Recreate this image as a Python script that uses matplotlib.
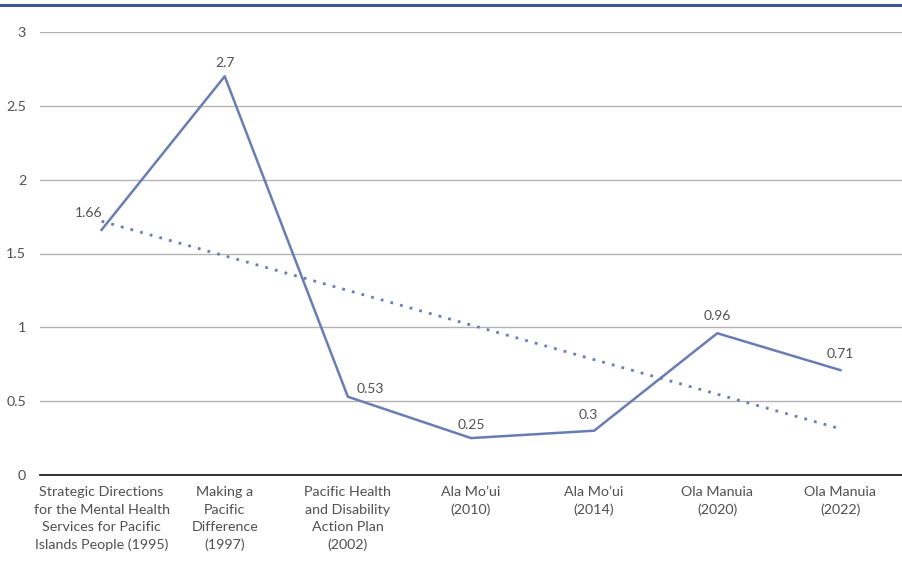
import numpy as np
import matplotlib.pyplot as plt

# data
categories = ['Strategic Directions\nfor the Mental Health\nServices for Pacific\nIslands People (1995)',
              'Making a\nPacific\nDifference\n(1997)',
              'Pacific Health\nand Disability\nAction Plan\n(2002)',
              'Ala Mo\u2019ui\n(2010)',
              'Ala Mo\u2019ui\n(2014)',
              'Ola Manuia\n(2020)',
              'Ola Manuia\n(2022)']
values = [1.66, 2.7, 0.53, 0.25, 0.3, 0.96, 0.71]
value_labels = ['1.66', '2.7', '0.53', '0.25', '0.3', '0.96', '0.71']

# label offsets in points (style only)
label_offsets = [(-9, 8), (0, 5), (16, 1), (0, 5), (-4, 7), (0, 8), (0, 7)]

plt.rcParams['font.family'] = ['Lato', 'DejaVu Sans']
txt_col = '#505050'

fig = plt.figure(figsize=(9.02, 5.62), dpi=100)
ax = fig.add_axes([40/902, 1-475/562, 862/902, (475-32)/562])

line_col = '#6a7db3'
x = np.arange(len(values))
ax.plot(x, values, color=line_col, lw=1.8, zorder=3)

# linear trendline
k, b = np.polyfit(x, values, 1)
ax.plot(x, k*x + b, color=line_col, lw=2, linestyle=(0, (1, 2.6)), zorder=3)

for xi, v, lab, off in zip(x, values, value_labels, label_offsets):
    ax.annotate(lab, (xi, v), xytext=off, textcoords='offset points',
                ha='center', va='bottom', fontsize=10, color=txt_col)

ax.set_xlim(-0.5, 6.5)
ax.set_ylim(0, 3)
ax.set_yticks([0, 0.5, 1, 1.5, 2, 2.5, 3])
ax.set_yticklabels(['0', '0.5', '1', '1.5', '2', '2.5', '3'])
ax.set_xticks(x)
ax.set_xticklabels(categories, fontsize=10.3, color=txt_col, linespacing=1.55)
ax.tick_params(axis='both', length=0, colors=txt_col, labelsize=10.3)
ax.tick_params(axis='y', pad=10)
ax.tick_params(axis='x', pad=8)
ax.grid(axis='y', color='#b3b3b3', lw=1)
ax.set_axisbelow(True)
for s in ['top', 'right', 'left']:
    ax.spines[s].set_visible(False)
ax.spines['bottom'].set_color('#222222')
ax.spines['bottom'].set_linewidth(1.3)
ax.spines['bottom'].set_zorder(4)

# top decorative line
fig.add_artist(plt.Line2D([0, 1], [1-5/562, 1-5/562], color='#3b5b8e', lw=2.2,
                          transform=fig.transFigure))

fig.savefig('out.png', dpi=100)
